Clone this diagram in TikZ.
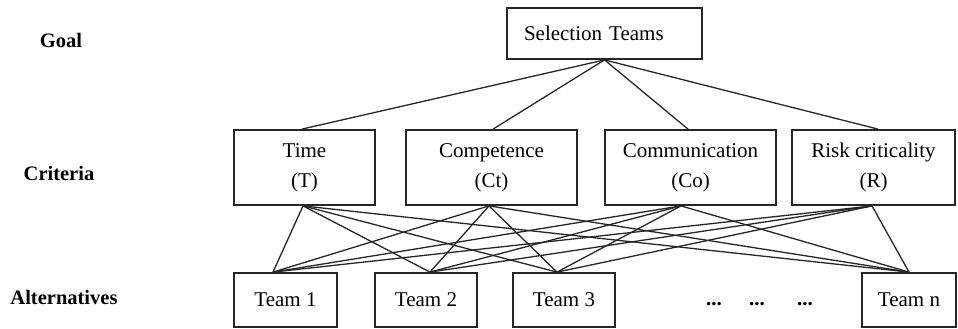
\documentclass[tikz,border=0pt]{standalone}
\usepackage{fontspec}
\setmainfont{Liberation Serif}
\begin{document}
\begin{tikzpicture}[x=1pt,y=-1pt,
  font=\fontsize{21}{30}\selectfont,
  box/.style={draw=black!85, line width=1.8pt, inner sep=0pt, align=center},
  crit/.style={box, minimum height=75pt},
  alt/.style={box, minimum height=54pt},
  level/.style={font=\fontsize{20.5}{24}\selectfont\bfseries},
  link/.style={draw=black!85, line width=1.3pt}]
\useasboundingbox (0,0) rectangle (958,329);

% level labels
\node[level] (lgoal) at (61,40) {Goal};
\node[level] (lcrit) at (59,173) {Criteria};
\node[level] (lalt)  at (64,297) {Alternatives};

% goal
\node[box, minimum width=195pt, minimum height=51pt, text width=161pt, align=left]
  (goal) at (604.5,33.5) {Selection Teams};

% criteria
\node[crit, minimum width=141pt] (time) at (304.5,167.5) {Time\\(T)};
\node[crit, minimum width=171pt] (comp) at (491.5,167.5) {Competence\\(Ct)};
\node[crit, minimum width=171pt] (comm) at (690.5,167.5) {Communication\\(Co)};
\node[crit, minimum width=163pt] (risk) at (873.5,167.5) {Risk criticality\\(R)};

% alternatives
\node[alt, minimum width=103pt] (t1) at (285.5,300) {Team 1};
\node[alt, minimum width=102pt] (t2) at (426,300) {Team 2};
\node[alt, minimum width=102pt] (t3) at (564,300) {Team 3};
\node[alt, minimum width=94pt]  (tn) at (909,300) {Team n};
\node (d1) at (714,304) {\textbf{...}};
\node (d2) at (757,304) {\textbf{...}};
\node (d3) at (805,304) {\textbf{...}};

% attachment points
\coordinate (gb) at (goal.south);
\coordinate (timeT) at ([xshift=-2.5]time.north);
\coordinate (compT) at ([xshift=1.5]comp.north);
\coordinate (commT) at ([xshift=-2.5]comm.north);
\coordinate (riskT) at ([xshift=4.5]risk.north);
\coordinate (timeB) at ([xshift=-1.5]time.south);
\coordinate (compB) at ([xshift=-2.5]comp.south);
\coordinate (commB) at ([xshift=-9.5]comm.south);
\coordinate (riskB) at ([xshift=-1.5]risk.south);
\coordinate (t1T) at ([xshift=-12.5]t1.north);
\coordinate (t2T) at ([xshift=4]t2.north);
\coordinate (t3T) at ([xshift=-7]t3.north);
\coordinate (tnT) at (tn.north);

% goal to criteria
\foreach \c in {timeT,compT,commT,riskT}
  \draw[link] (gb) -- (\c);

% criteria to alternatives
\foreach \c in {timeB,compB,commB,riskB}
  \foreach \a in {t1T,t2T,t3T,tnT}
    \draw[link] (\c) -- (\a);
\end{tikzpicture}
\end{document}
